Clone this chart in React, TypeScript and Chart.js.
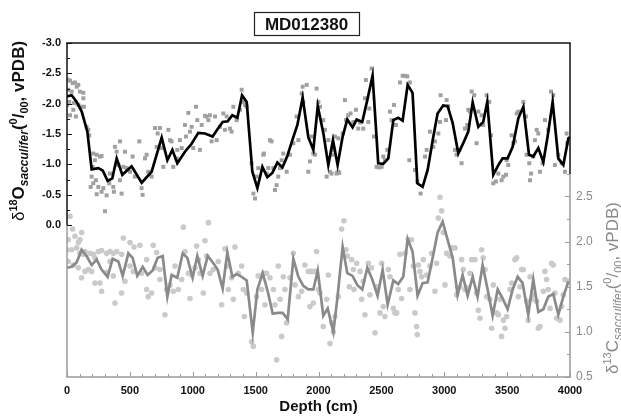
import React, { useEffect, useRef } from "react";
import { Chart, registerables } from "chart.js";

Chart.register(...registerables);

const FONT = '"Liberation Sans", Arial, Helvetica, sans-serif';

const chartTitle = "MD012380";
const xTitle = "Depth (cm)";

// δ18O smoothed record [depth cm, ‰]
const o18Line: [number, number][] = [
  [0, -2.12], [37, -2.14], [77, -2.03], [117, -1.87], [162, -1.54], [196, -0.92], [249, -0.94], [284, -0.9],
  [323, -0.73], [360, -0.77], [395, -1.1], [440, -0.83], [514, -0.97], [594, -0.7], [673, -0.88], [753, -1.44],
  [798, -1.07], [838, -1.24], [877, -1.02], [938, -1.21], [991, -1.34], [1044, -1.52], [1097, -1.51], [1158, -1.46],
  [1190, -1.56], [1238, -1.7], [1278, -1.71], [1315, -1.81], [1355, -1.77], [1392, -2.14], [1429, -2.03], [1474, -0.88],
  [1514, -0.61], [1554, -0.96], [1593, -0.79], [1633, -0.86], [1673, -1.03], [1713, -0.95], [1752, -1.14], [1792, -1.4],
  [1832, -1.65], [1874, -2.1], [1919, -1.45], [1959, -1.24], [1994, -1.96], [2039, -1.51], [2078, -0.99], [2115, -1.4],
  [2152, -0.99], [2192, -1.46], [2229, -1.74], [2271, -1.61], [2303, -1.74], [2348, -1.7], [2388, -2.06], [2430, -2.46],
  [2475, -1.02], [2515, -1.01], [2555, -1.1], [2595, -1.73], [2634, -1.77], [2669, -1.72], [2709, -2.31], [2748, -2.18],
  [2786, -0.69], [2828, -0.63], [2868, -0.91], [2908, -1.4], [2947, -1.84], [2992, -1.97], [3027, -1.96], [3067, -1.68],
  [3112, -1.18], [3151, -1.35], [3191, -1.54], [3226, -2.02], [3271, -1.62], [3310, -1.7], [3342, -2.03], [3390, -0.83],
  [3430, -0.99], [3464, -1.1], [3504, -1.1], [3544, -1.29], [3589, -1.76], [3629, -1.95], [3674, -1.16], [3708, -1.13],
  [3748, -1.27], [3788, -1.04], [3822, -1.46], [3862, -2.03], [3907, -1.1], [3947, -0.99], [3987, -1.43], [4000, -1.45],
];

// δ18O individual measurements [depth cm, ‰]
const o18Samples: [number, number][] = [
  [5, -2.4], [24, -2.38], [45, -2.34], [63, -2.35], [90, -2.31], [10, -2.23], [37, -2.2], [77, -2.28], [103, -2.2],
  [130, -2.18], [18, -2.03], [55, -2.01], [90, -1.98], [116, -1.95], [71, -1.79], [24, -1.81], [0, -1.98], [50, -1.9],
  [130, -2.09], [135, -1.95], [156, -1.62], [169, -1.57], [177, -1.48], [209, -1.18], [236, -1.16], [262, -1.13],
  [275, -1.14], [222, -1.07], [204, -0.96], [196, -0.8], [188, -0.63], [209, -0.69], [230, -0.74], [249, -0.63],
  [236, -0.51], [275, -0.55], [289, -0.61], [302, -0.23], [315, -0.49], [342, -0.85], [336, -0.69], [373, -0.55],
  [368, -0.63], [381, -1.29], [395, -1.21], [421, -1.38], [408, -0.99], [421, -0.74], [434, -0.52], [448, -0.96],
  [461, -1.21], [474, -0.94], [501, -0.88], [522, -1.13], [540, -0.8], [575, -1.38], [593, -0.61], [601, -0.5],
  [620, -1.1], [633, -1.16], [646, -0.88], [673, -0.8], [700, -1.6], [713, -1.29], [721, -1.51], [739, -1.6],
  [752, -1.27], [766, -0.96], [806, -1.57], [819, -1.4], [832, -1.38], [845, -0.96], [872, -1.1], [877, -1.24],
  [898, -1.4], [912, -1.27], [946, -1.46], [938, -1.65], [965, -1.85], [978, -1.54], [991, -1.62], [1004, -1.27],
  [1026, -1.95], [1036, -1.73], [1057, -1.24], [1071, -1.65], [1097, -1.8], [1110, -1.79], [1124, -1.73], [1137, -1.81],
  [1150, -1.38], [1177, -1.79], [1190, -1.4], [1216, -1.62], [1243, -1.84], [1256, -1.57], [1270, -1.79], [1296, -1.59],
  [1309, -1.54], [1323, -1.95], [1349, -1.73], [1376, -1.9], [1389, -2.23], [1402, -2.03], [1415, -1.98], [1429, -1.95],
  [1468, -1.02], [1482, -0.52], [1495, -0.44], [1508, -0.8], [1521, -0.94], [1561, -1.16], [1566, -1.18], [1588, -0.85],
  [1601, -0.94], [1614, -1.4], [1627, -1.38], [1641, -0.94], [1654, -0.58], [1667, -0.66], [1680, -0.8], [1694, -0.94],
  [1707, -1.07], [1720, -1.18], [1747, -0.88], [1773, -1.16], [1800, -1.35], [1826, -1.79], [1840, -1.4], [1866, -2.17],
  [1874, -2.28], [1879, -2.03], [1906, -2.31], [1919, -0.88], [1932, -1.05], [1946, -1.46], [1959, -1.18], [1972, -1.16],
  [1985, -2.25], [1999, -2.03], [2012, -1.95], [2038, -1.73], [2052, -1.57], [2065, -0.8], [2078, -1.4], [2091, -0.88],
  [2118, -1.24], [2144, -0.85], [2158, -0.88], [2158, -1.43], [2104, -0.85], [2112, -1.16], [2131, -1.46], [2149, -0.86],
  [2165, -0.86], [2192, -1.51], [2210, -2.06], [2218, -1.73], [2237, -1.81], [2255, -1.84], [2277, -1.7], [2298, -1.9],
  [2316, -1.59], [2330, -1.69], [2356, -1.59], [2369, -2.09], [2377, -2.39], [2396, -1.7], [2404, -1.92], [2422, -2.58],
  [2441, -1.46], [2462, -0.96], [2483, -0.95], [2502, -0.96], [2515, -1.13], [2528, -1.07], [2547, -1.24], [2568, -1.87],
  [2581, -1.73], [2600, -1.98], [2616, -1.65], [2648, -2.35], [2669, -2.46], [2688, -2.46], [2706, -2.45], [2727, -2.35],
  [2722, -1.07], [2767, -0.91], [2786, -0.72], [2812, -0.52], [2847, -1.13], [2860, -1.24], [2886, -1.54], [2913, -1.29],
  [2926, -1.38], [2953, -1.51], [2966, -1.7], [2971, -2.14], [3014, -1.73], [3019, -2.06], [3032, -1.96], [3085, -1.24],
  [3098, -1.16], [3120, -1.24], [3138, -1.02], [3165, -1.59], [3183, -1.65], [3191, -1.9], [3204, -1.87], [3218, -2.2],
  [3239, -2.14], [3257, -1.35], [3271, -1.87], [3297, -1.81], [3310, -1.65], [3337, -2.14], [3358, -2.03], [3371, -1.48],
  [3390, -0.69], [3411, -0.72], [3430, -0.85], [3456, -0.74], [3470, -0.8], [3491, -0.83], [3496, -1.07], [3509, -0.99],
  [3536, -1.48], [3549, -1.35], [3562, -1.38], [3576, -1.84], [3589, -1.87], [3629, -2.03], [3650, -1.79], [3655, -1.16],
  [3676, -1.02], [3682, -0.74], [3690, -0.85], [3708, -1.13], [3721, -1.4], [3735, -1.57], [3748, -1.51], [3761, -0.88],
  [3782, -1.02], [3801, -1.73], [3827, -1.57], [3849, -2.2], [3867, -2.14], [3880, -0.99], [3907, -1.16], [3933, -1.02],
  [3960, -0.88], [3973, -1.51], [3978, -1.35],
];

// δ13C smoothed record [depth cm, ‰]
const c13Line: [number, number][] = [
  [0, 1.71], [37, 1.72], [77, 1.77], [116, 1.91], [156, 1.84], [196, 1.74], [236, 1.8], [275, 1.69], [323, 1.61],
  [363, 1.81], [408, 1.78], [443, 1.62], [488, 1.87], [522, 1.82], [559, 1.62], [602, 1.72], [641, 1.63], [681, 1.68],
  [721, 1.82], [761, 1.84], [798, 1.39], [832, 1.63], [877, 1.6], [920, 1.87], [957, 1.82], [999, 1.6], [1036, 1.84],
  [1079, 1.62], [1119, 1.84], [1164, 1.76], [1198, 1.69], [1238, 1.48], [1275, 1.88], [1315, 1.61], [1349, 1.64],
  [1389, 1.61], [1429, 1.57], [1477, 0.99], [1514, 1.47], [1556, 1.65], [1596, 1.45], [1636, 1.2], [1675, 1.21],
  [1715, 1.21], [1755, 1.14], [1800, 1.81], [1840, 1.61], [1879, 1.51], [1919, 1.47], [1959, 1.47], [1994, 1.68],
  [2038, 1.18], [2073, 1.26], [2118, 1.0], [2149, 1.36], [2192, 1.94], [2229, 1.65], [2271, 1.62], [2308, 1.52],
  [2348, 1.47], [2388, 1.71], [2428, 1.58], [2470, 1.4], [2510, 1.69], [2550, 1.3], [2595, 1.57], [2634, 1.53],
  [2674, 1.61], [2709, 2.03], [2748, 1.89], [2788, 1.4], [2828, 1.54], [2868, 1.55], [2908, 1.82], [2947, 2.1],
  [2987, 2.22], [3027, 2.02], [3067, 1.82], [3106, 1.41], [3146, 1.63], [3186, 1.4], [3226, 1.61], [3265, 1.39],
  [3305, 1.74], [3345, 1.47], [3385, 1.18], [3425, 1.47], [3464, 1.37], [3504, 1.25], [3544, 1.47], [3584, 1.61],
  [3623, 1.54], [3668, 1.19], [3708, 1.58], [3748, 1.22], [3788, 1.25], [3827, 1.39], [3867, 1.42], [3907, 1.19],
  [3947, 1.39], [3987, 1.56],
];

// δ13C individual measurements [depth cm, ‰]
const c13Samples: [number, number][] = [
  [24, 2.28], [45, 2.14], [10, 2.02], [63, 2.06], [90, 1.99], [103, 2.02], [116, 2.1], [0, 1.91], [37, 1.91], [77, 1.93],
  [103, 1.87], [130, 1.86], [143, 1.89], [183, 1.87], [209, 1.86], [222, 1.82], [249, 1.89], [275, 1.9], [315, 1.87],
  [342, 1.89], [368, 1.87], [395, 1.89], [434, 1.86], [448, 2.04], [501, 1.99], [533, 1.94], [580, 1.96], [633, 1.8],
  [686, 1.96], [713, 1.88], [739, 1.69], [10, 1.78], [50, 1.74], [90, 1.71], [116, 1.6], [143, 1.67], [169, 1.69],
  [196, 1.67], [222, 1.54], [262, 1.54], [275, 1.45], [315, 1.66], [342, 1.78], [368, 1.62], [381, 1.32], [434, 1.43],
  [461, 1.56], [501, 1.73], [527, 1.67], [593, 1.65], [633, 1.47], [646, 1.39], [673, 1.43], [700, 1.71], [739, 1.58],
  [779, 1.19], [792, 1.47], [819, 1.52], [845, 1.45], [859, 1.73], [885, 1.47], [912, 1.58], [925, 2.16], [938, 1.89],
  [965, 1.65], [978, 1.37], [991, 1.63], [1018, 1.71], [1031, 1.95], [1044, 1.8], [1057, 1.65], [1084, 1.43], [1097, 2.01],
  [1110, 1.84], [1124, 2.21], [1137, 1.65], [1163, 1.69], [1203, 1.78], [1230, 1.3], [1256, 1.92], [1270, 1.73],
  [1283, 1.47], [1309, 1.6], [1323, 1.36], [1336, 1.94], [1362, 1.65], [1389, 1.73], [1402, 1.47], [1410, 1.17],
  [1429, 1.43], [1468, 0.89], [1482, 0.84], [1508, 1.39], [1521, 1.62], [1548, 1.47], [1561, 1.65], [1574, 1.3],
  [1588, 1.65], [1614, 1.6], [1641, 1.47], [1654, 1.3], [1667, 0.69], [1680, 1.73], [1694, 1.36], [1707, 0.95],
  [1720, 1.61], [1733, 1.47], [1747, 1.1], [1773, 1.6], [1800, 1.87], [1813, 1.52], [1840, 1.39], [1866, 1.45],
  [1892, 1.74], [1919, 1.67], [1932, 1.28], [1946, 1.67], [1959, 1.32], [1972, 1.67], [1985, 1.89], [1999, 1.47],
  [2012, 1.43], [2038, 1.06], [2065, 1.36], [2078, 1.63], [2091, 0.87], [2105, 1.1], [2118, 1.0], [2131, 1.17],
  [2157, 1.39], [2184, 2.14], [2202, 2.23], [2218, 1.91], [2229, 1.84], [2245, 1.5], [2263, 1.8], [2277, 1.69],
  [2282, 1.47], [2303, 1.76], [2330, 1.67], [2343, 1.36], [2356, 1.56], [2369, 1.19], [2396, 1.76], [2409, 1.41],
  [2422, 1.71], [2449, 0.99], [2462, 1.5], [2489, 1.21], [2502, 1.76], [2515, 1.28], [2528, 1.17], [2555, 1.69],
  [2568, 1.61], [2595, 1.26], [2608, 1.21], [2621, 1.21], [2634, 1.47], [2648, 1.86], [2661, 1.37], [2688, 1.87],
  [2714, 2.02], [2727, 1.47], [2740, 2.02], [2754, 1.73], [2767, 1.21], [2780, 1.06], [2786, 0.97], [2794, 1.74],
  [2807, 1.67], [2820, 1.61], [2833, 1.8], [2860, 1.63], [2886, 1.73], [2900, 1.87], [2926, 1.45], [2939, 1.76],
  [2953, 2.26], [2966, 2.49], [2979, 2.34], [2992, 2.1], [3006, 1.52], [3019, 1.87], [3045, 1.84], [3059, 1.93],
  [3085, 1.93], [3098, 1.41], [3125, 1.5], [3138, 1.8], [3151, 1.69], [3165, 1.47], [3178, 1.49], [3204, 1.65],
  [3218, 1.8], [3244, 1.8], [3257, 1.43], [3271, 1.24], [3284, 1.15], [3297, 1.91], [3310, 1.82], [3324, 1.69],
  [3337, 1.39], [3363, 1.36], [3377, 1.04], [3390, 1.52], [3417, 1.21], [3430, 1.19], [3443, 1.36], [3456, 0.95],
  [3470, 1.13], [3483, 1.04], [3496, 1.17], [3523, 1.47], [3536, 1.54], [3562, 1.8], [3576, 1.82], [3589, 1.39],
  [3602, 1.5], [3615, 1.69], [3629, 1.69], [3655, 1.34], [3668, 1.13], [3682, 1.61], [3695, 1.36], [3708, 1.41],
  [3735, 1.34], [3748, 1.04], [3761, 1.06], [3788, 1.45], [3801, 1.67], [3814, 1.58], [3827, 1.47], [3841, 1.26],
  [3854, 1.76], [3867, 1.74], [3880, 1.43], [3894, 1.15], [3920, 1.13], [3933, 1.28], [3947, 1.41], [3960, 1.58],
  [3987, 1.56],
];

const xRange = [0, 4000];
const o18Range = [-3, 2.5];
const c13Range = [0.5, 4.2];
const o18LabelMax = 0;
const c13LabelMax = 2.5;

const toXY = (arr: [number, number][]) => arr.map(([x, y]) => ({ x, y }));

type Seg = { t: string; size: number; weight: string; style?: string; dy: number };

function drawRich(ctx: CanvasRenderingContext2D, segs: Seg[], baseX: number, cy: number, color: string) {
  ctx.save();
  ctx.translate(baseX, cy);
  ctx.rotate(-Math.PI / 2);
  ctx.fillStyle = color;
  ctx.textBaseline = "alphabetic";
  ctx.textAlign = "left";
  const fontOf = (s: Seg) => `${s.style || "normal"} ${s.weight} ${s.size}px ${FONT}`;
  let total = 0;
  for (const s of segs) {
    ctx.font = fontOf(s);
    total += ctx.measureText(s.t).width;
  }
  let x = -total / 2;
  for (const s of segs) {
    ctx.font = fontOf(s);
    ctx.fillText(s.t, x, s.dy);
    x += ctx.measureText(s.t).width;
  }
  ctx.restore();
}

const leftTitle: Seg[] = [
  { t: "δ", size: 17, weight: "normal", dy: 0 },
  { t: "18", size: 11, weight: "bold", dy: -7 },
  { t: "O", size: 17, weight: "bold", dy: 0 },
  { t: "sacculifer", size: 12, weight: "bold", style: "italic", dy: 4 },
  { t: "(", size: 17, weight: "bold", dy: 0 },
  { t: "0", size: 11, weight: "bold", dy: -7 },
  { t: "/", size: 17, weight: "bold", dy: 0 },
  { t: "00", size: 11, weight: "bold", dy: 4 },
  { t: ", vPDB)", size: 17, weight: "bold", dy: 0 },
];

const rightTitle: Seg[] = [
  { t: "δ", size: 17, weight: "normal", dy: 0 },
  { t: "13", size: 11, weight: "normal", dy: -7 },
  { t: "C", size: 17, weight: "normal", dy: 0 },
  { t: "sacculifer", size: 12, weight: "normal", style: "italic", dy: 4 },
  { t: "(", size: 17, weight: "normal", dy: 0 },
  { t: "0", size: 11, weight: "normal", dy: -7 },
  { t: "/", size: 17, weight: "normal", dy: 0 },
  { t: "00", size: 11, weight: "normal", dy: 4 },
  { t: ", vPDB)", size: 17, weight: "normal", dy: 0 },
];

const AXIS_GRAY = "#9a9a9a";
const C13_GRAY = "#8a8a8a";

const decorPlugin = {
  id: "decor",
  afterDraw(chart: any) {
    const ctx: CanvasRenderingContext2D = chart.ctx;
    const { left, right, top, bottom } = chart.chartArea;
    const xs = chart.scales.x;
    const ys = chart.scales.y;
    const y2 = chart.scales.y2;
    const seg = (a: number, b: number, c: number, d: number) => {
      ctx.beginPath();
      ctx.moveTo(a, b);
      ctx.lineTo(c, d);
      ctx.stroke();
    };
    ctx.save();
    // frame
    ctx.lineWidth = 1.5;
    const ySplit = ys.getPixelForValue(o18LabelMax);
    const y2Split = y2.getPixelForValue(c13LabelMax + 0.25);
    ctx.strokeStyle = "#111";
    seg(left - 0.75, top, right + 0.75, top);
    seg(left, top, left, ySplit);
    seg(right, top, right, y2Split);
    ctx.strokeStyle = AXIS_GRAY;
    seg(left, ySplit, left, bottom);
    seg(right, y2Split, right, bottom);
    seg(left - 0.75, bottom, right + 0.75, bottom);

    // inward ticks
    ctx.lineWidth = 1;
    ctx.strokeStyle = AXIS_GRAY;
    for (let d = xRange[0]; d <= xRange[1]; d += 100) {
      const px = Math.round(xs.getPixelForValue(d)) + 0.5;
      const len = d % 500 === 0 ? 5 : 3;
      seg(px, bottom, px, bottom - len);
    }
    ctx.strokeStyle = "#111";
    for (let v = o18Range[0]; v <= o18LabelMax + 1e-6; v += 0.25) {
      const py = Math.round(ys.getPixelForValue(v)) + 0.5;
      const major = Math.abs(v * 2 - Math.round(v * 2)) < 1e-6;
      seg(left, py, left + (major ? 5 : 3), py);
    }
    ctx.strokeStyle = AXIS_GRAY;
    for (let v = c13Range[0]; v <= c13LabelMax + 0.25 + 1e-6; v += 0.25) {
      const py = Math.round(y2.getPixelForValue(v)) + 0.5;
      const major = Math.abs(v * 2 - Math.round(v * 2)) < 1e-6;
      seg(right, py, right - (major ? 5 : 3), py);
    }

    // chart title box
    ctx.font = `bold 17px ${FONT}`;
    const tw = ctx.measureText(chartTitle).width;
    const cx = 306.5;
    const cy = 24;
    ctx.lineWidth = 1.2;
    ctx.strokeStyle = "#222";
    ctx.strokeRect(Math.round(cx - tw / 2 - 11) + 0.5, 12.5, Math.round(tw + 22), 23);
    ctx.fillStyle = "#111";
    ctx.textAlign = "center";
    ctx.textBaseline = "middle";
    ctx.fillText(chartTitle, cx, cy + 1);

    // axis titles
    drawRich(ctx, leftTitle, 24, 131, "#111");
    drawRich(ctx, rightTitle, 618, 288, C13_GRAY);
    ctx.restore();
  },
};

export default function App() {
  const ref = useRef<HTMLCanvasElement | null>(null);
  useEffect(() => {
    if (!ref.current) return;
    const chart = new Chart(ref.current, {
      type: "scatter",
      data: {
        datasets: [
          {
            label: "δ18O smoothed",
            data: toXY(o18Line),
            showLine: true,
            borderColor: "#000",
            borderWidth: 2.7,
            pointRadius: 0,
            tension: 0,
            yAxisID: "y",
          } as any,
          {
            label: "δ18O",
            data: toXY(o18Samples),
            pointStyle: "rect",
            pointRadius: 2.8,
            backgroundColor: "#a0a0a0",
            borderWidth: 0,
            yAxisID: "y",
          },
          {
            label: "δ13C smoothed",
            data: toXY(c13Line),
            showLine: true,
            borderColor: C13_GRAY,
            borderWidth: 2.7,
            pointRadius: 0,
            tension: 0,
            yAxisID: "y2",
          } as any,
          {
            label: "δ13C",
            data: toXY(c13Samples),
            pointStyle: "circle",
            pointRadius: 2.8,
            backgroundColor: "#cacaca",
            borderWidth: 0,
            yAxisID: "y2",
          },
        ],
      },
      options: {
        responsive: false,
        animation: false,
        devicePixelRatio: 1,
        layout: { padding: { top: 43, left: 0, right: 0, bottom: 0 } },
        plugins: { legend: { display: false }, tooltip: { enabled: false }, title: { display: false } },
        scales: {
          x: {
            type: "linear",
            position: "bottom",
            min: xRange[0],
            max: xRange[1],
            afterFit: (s: any) => {
              s.height = 41;
            },
            grid: { display: false, drawTicks: false },
            border: { display: false },
            ticks: {
              stepSize: 500,
              padding: 7,
              color: "#111",
              autoSkip: false,
              maxRotation: 0,
              font: { family: FONT, size: 11, weight: "bold" },
              callback: (v: any) => String(Math.round(Number(v))),
            },
            title: {
              display: true,
              text: xTitle,
              color: "#111",
              font: { family: FONT, size: 15, weight: "bold" },
              padding: { top: 0, bottom: 2 },
            },
          },
          y: {
            type: "linear",
            position: "left",
            reverse: true,
            min: o18Range[0],
            max: o18Range[1],
            afterFit: (s: any) => {
              s.width = 67;
            },
            grid: { display: false, drawTicks: false },
            border: { display: false },
            ticks: {
              stepSize: 0.5,
              padding: 6,
              autoSkip: false,
              color: "#111",
              font: { family: FONT, size: 11, weight: "bold" },
              callback: (v: any) => (Number(v) <= o18LabelMax + 1e-6 ? Number(v).toFixed(1) : ""),
            },
          },
          y2: {
            type: "linear",
            position: "right",
            min: c13Range[0],
            max: c13Range[1],
            afterFit: (s: any) => {
              s.width = 51;
            },
            grid: { display: false, drawTicks: false },
            border: { display: false },
            ticks: {
              stepSize: 0.5,
              padding: 6,
              autoSkip: false,
              color: C13_GRAY,
              font: { family: FONT, size: 12 },
              callback: (v: any) => (Number(v) <= c13LabelMax + 1e-6 ? Number(v).toFixed(1) : ""),
            },
          },
        },
      },
      plugins: [decorPlugin],
    });
    return () => chart.destroy();
  }, []);
  return (
    <div style={{ position: "absolute", left: 0, top: 0, width: 621, height: 418, background: "#fff" }}>
      <canvas ref={ref} width={621} height={418} style={{ display: "block" }} />
    </div>
  );
}
